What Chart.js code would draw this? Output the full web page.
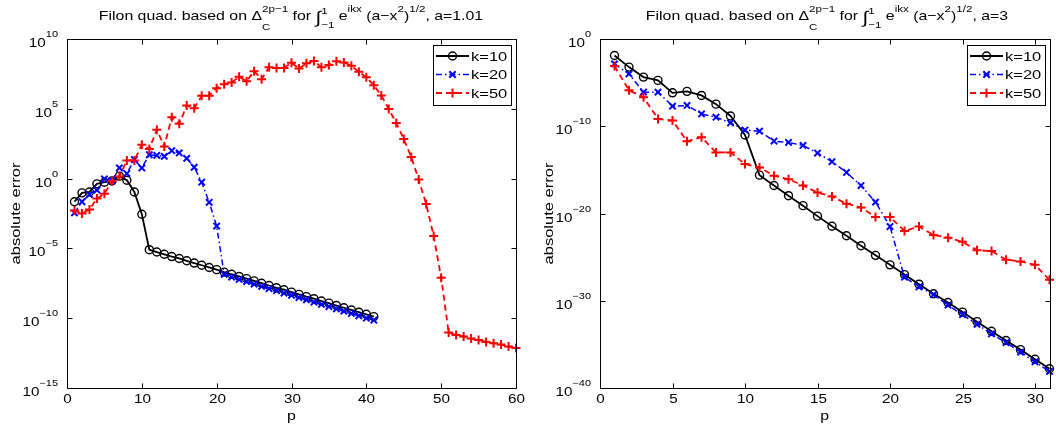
<!DOCTYPE html>
<html>
<head>
<meta charset="utf-8">
<script src="https://cdn.jsdelivr.net/npm/chart.js@4.4.0/dist/chart.umd.min.js"></script>
<style>
  html, body { margin: 0; padding: 0; background: #fff; }
  #wrap { position: relative; width: 1056px; height: 432px; overflow: hidden;
          font-family: "Liberation Sans", Arial, Helvetica, sans-serif; color: #000; }
  canvas { position: absolute; top: 0; }
  #cLeft { left: 0; }
  #cRight { left: 528px; }
  .ttl { position: absolute; top: 8px; font-size: 13px; line-height: 16px;
         white-space: nowrap; transform: translateX(-50%) scaleX(1.22); }
  .sp { font-size: 9.5px; position: relative; top: -8px; }
  .stk { display: inline-grid; font-size: 9.5px; line-height: 9px; }
  .stk > span { grid-area: 1 / 1; position: relative; }
  .delta .u { top: -8px; } .delta .d { top: 10px; }
  .intl .u { top: -6px; }  .intl .d { top: 7.5px; }
  .int { font-size: 17px; line-height: 10px; position: relative; top: 3px; }
</style>
</head>
<body>
<div id="wrap">
  <canvas id="cLeft" width="528" height="432"></canvas>
  <canvas id="cRight" width="528" height="432"></canvas>
  <div class="ttl" style="left:291px">Filon quad. based on &Delta;<span class="stk delta"><span class="u">2p&minus;1</span><span class="d">C</span></span> for <span class="int">&int;</span><span class="stk intl"><span class="u">1</span><span class="d">&minus;1</span></span> e<span class="sp">ikx</span> (a&minus;x<span class="sp">2</span>)<span class="sp">1/2</span>, a=1.01</div>
  <div class="ttl" style="left:827px">Filon quad. based on &Delta;<span class="stk delta"><span class="u">2p&minus;1</span><span class="d">C</span></span> for <span class="int">&int;</span><span class="stk intl"><span class="u">1</span><span class="d">&minus;1</span></span> e<span class="sp">ikx</span> (a&minus;x<span class="sp">2</span>)<span class="sp">1/2</span>, a=3</div>
</div>
<script>
// p values
const pLeft = [1, 2, 3, 4, 5, 6, 7, 8, 9, 10, 11, 12, 13, 14, 15, 16, 17, 18, 19, 20,
  21, 22, 23, 24, 25, 26, 27, 28, 29, 30, 31, 32, 33, 34, 35, 36, 37, 38, 39, 40,
  41, 42, 43, 44, 45, 46, 47, 48, 49, 50, 51, 52, 53, 54, 55, 56, 57, 58, 59, 60];
const pRight = [1, 2, 3, 4, 5, 6, 7, 8, 9, 10, 11, 12, 13, 14, 15, 16, 17, 18, 19, 20,
  21, 22, 23, 24, 25, 26, 27, 28, 29, 30, 31];

// a=1.01 (left)
const leftK10 = [2.2e-2, 9.5e-2, 1.1e-1, 4.2e-1, 5.5e-1, 6.8e-1, 1.5, 7.6e-1, 1.1e-1, 2.8e-3,
  8.1e-6, 5.5e-6, 3.8e-6, 2.6e-6, 1.9e-6, 1.3e-6, 8.9e-7, 6.2e-7, 4.3e-7, 3.0e-7,
  2.0e-7, 1.4e-7, 9.8e-8, 6.8e-8, 4.7e-8, 3.2e-8, 2.2e-8, 1.5e-8, 1.1e-8, 7.4e-9,
  5.1e-9, 3.5e-9, 2.5e-9, 1.7e-9, 1.2e-9, 8.1e-10, 5.6e-10, 3.9e-10, 2.7e-10, 1.9e-10, 1.3e-10];
const leftK20 = [3.5e-3, 2.2e-2, 7.2e-2, 1.5e-1, 9.5e-1, 7.1e-1, 5.8, 2.3, 23, 5.8,
  51, 46, 39, 100, 69, 28, 6.5, 5.5e-1, 2.0e-2, 4.0e-4,
  1.4e-7, 8.9e-8, 6.0e-8, 4.2e-8, 2.8e-8, 1.9e-8, 1.3e-8, 9.3e-9, 6.3e-9, 4.4e-9,
  3.0e-9, 2.1e-9, 1.4e-9, 9.8e-10, 6.8e-10, 4.7e-10, 3.2e-10, 2.2e-10, 1.5e-10, 1.0e-10, 7.2e-11];
const leftK50 = [5.1e-3, 3.2e-3, 6.2e-3, 3.7e-2, 8.1e-2, 6.5e-1, 1.4, 20, 20, 270,
  130, 3.2e3, 200, 2.5e4, 8.5e3, 1.7e5, 1.1e5, 8.5e5, 8.5e5, 3.0e6,
  5.8e6, 7.6e6, 2.0e7, 9.5e6, 4.9e7, 1.3e7, 9.5e7, 8.5e7, 8.5e7, 2.0e8,
  7.6e7, 1.8e8, 2.7e8, 9.5e7, 1.4e8, 2.5e8, 2.1e8, 1.2e8, 4.6e7, 1.8e7,
  4.8e6, 8.9e5, 9.5e4, 9.5e3, 680, 35, 8.5e-1, 1.5e-2, 7.6e-5, 7.9e-8,
  9.5e-12, 6.2e-12, 4.9e-12, 3.5e-12, 2.7e-12, 2.0e-12, 1.6e-12, 1.3e-12, 9.5e-13, 7.2e-13];

// a=3 (right)
const rightK10 = [1.3e-2, 6.0e-4, 4.3e-5, 1.8e-5, 6.8e-7, 1.0e-6, 3.4e-7, 3.4e-8, 1.5e-9, 1.0e-11,
  2.5e-16, 1.6e-17, 1.1e-18, 7.9e-20, 5.0e-21, 3.5e-22, 2.8e-23, 2.0e-24, 1.6e-25, 1.3e-26,
  1.0e-27, 7.9e-29, 6.3e-30, 6.3e-31, 5.0e-32, 4.0e-33, 3.2e-34, 2.8e-35, 2.5e-36, 2.0e-37, 1.6e-38];
const rightK20 = [1.4e-3, 1.0e-4, 8.1e-7, 8.1e-7, 2.0e-8, 2.4e-8, 2.6e-9, 1.1e-9, 2.4e-10, 3.7e-11,
  2.7e-11, 2.0e-12, 1.4e-12, 6.3e-13, 8.5e-14, 8.7e-15, 5.1e-16, 1.6e-17, 2.0e-19, 3.2e-22,
  5.0e-28, 4.0e-29, 5.0e-30, 3.2e-31, 2.5e-32, 2.0e-33, 1.6e-34, 1.6e-35, 1.3e-36, 1.0e-37, 7.9e-39];
const rightK50 = [7.9e-4, 1.3e-6, 2.1e-7, 6.9e-10, 4.5e-10, 1.9e-12, 5.5e-12, 1.0e-13, 1.0e-13, 4.7e-15,
  1.9e-15, 2.1e-16, 8.7e-17, 1.6e-17, 2.5e-18, 8.9e-19, 1.3e-19, 5.0e-20, 4.0e-21, 4.0e-21,
  1.0e-22, 3.2e-22, 3.5e-23, 1.7e-23, 5.6e-24, 6.3e-25, 5.0e-25, 5.0e-26, 3.2e-26, 1.3e-26, 2.5e-28];

const seriesLabels = ['k=10', 'k=20', 'k=50'];
const leftXTicks = [0, 10, 20, 30, 40, 50, 60];
const rightXTicks = [0, 5, 10, 15, 20, 25, 30];
const leftYTicks = [1e10, 1e5, 1e0, 1e-5, 1e-10, 1e-15];
const rightYTicks = [1e0, 1e-10, 1e-20, 1e-30, 1e-40];

const FONT = '"Liberation Sans", Arial, Helvetica, sans-serif';
const SX = 1.22; // the reference font is wider than Arial

// text squeezed/stretched along its own direction
function wideText(ctx, txt, x, y, align, sx) {
  ctx.save();
  ctx.translate(x, y);
  ctx.scale(sx, 1);
  ctx.textAlign = align;
  ctx.fillText(txt, 0, 0);
  ctx.restore();
}

// matlab style box, inward ticks, 10^n labels, axis titles
const matlabAxes = {
  id: 'matlabAxes',
  afterDraw(chart) {
    const { ctx, chartArea: a, scales: { x, y } } = chart;
    ctx.save();
    ctx.strokeStyle = '#000';
    ctx.fillStyle = '#000';
    ctx.lineWidth = 1;
    ctx.setLineDash([]);
    ctx.textBaseline = 'alphabetic';
    const L = Math.round(a.left) + 0.5, R = Math.round(a.right) + 0.5;
    const T = Math.round(a.top) + 0.5, B = Math.round(a.bottom) + 0.5;
    ctx.strokeRect(L, T, R - L, B - T);

    ctx.font = '12.5px ' + FONT;
    x.ticks.forEach(t => {
      const px = Math.round(x.getPixelForValue(t.value)) + 0.5;
      ctx.beginPath();
      ctx.moveTo(px, B); ctx.lineTo(px, B - 5);
      ctx.moveTo(px, T); ctx.lineTo(px, T + 5);
      ctx.stroke();
      wideText(ctx, String(t.value), px, B + 14, 'center', SX);
    });

    y.ticks.forEach(t => {
      const py = Math.round(y.getPixelForValue(t.value)) + 0.5;
      ctx.beginPath();
      ctx.moveTo(L, py); ctx.lineTo(L + 5, py);
      ctx.moveTo(R, py); ctx.lineTo(R - 5, py);
      ctx.stroke();
      const es = String(Math.round(Math.log10(t.value))).replace('-', '\u2212');
      ctx.font = '9px ' + FONT;
      const we = ctx.measureText(es).width * SX;
      ctx.font = '12.5px ' + FONT;
      const wb = ctx.measureText('10').width * SX;
      const rx = a.left - 9;
      wideText(ctx, '10', rx - we - wb, py + 7, 'left', SX);
      ctx.font = '9px ' + FONT;
      wideText(ctx, es, rx - we, py - 2.5, 'left', SX);
    });

    ctx.font = '13px ' + FONT;
    wideText(ctx, x.options.title.text, (a.left + a.right) / 2, B + 31, 'center', SX);
    ctx.save();
    ctx.translate(a.left - 47, (a.top + a.bottom) / 2);
    ctx.rotate(-Math.PI / 2);
    wideText(ctx, y.options.title.text, 0, 0, 'center', 1.27);
    ctx.restore();
    ctx.restore();
  }
};

// legend in a box, top right
const boxLegend = {
  id: 'boxLegend',
  afterDraw(chart) {
    const { ctx, chartArea: a } = chart;
    const w = 78, h = 60;
    const bx = Math.round(a.right) - 5 - w, by = Math.round(a.top) + 6;
    ctx.save();
    ctx.fillStyle = '#fff';
    ctx.fillRect(bx, by, w, h);
    ctx.strokeStyle = '#000';
    ctx.lineWidth = 1;
    ctx.strokeRect(bx + 0.5, by + 0.5, w, h);
    chart.data.datasets.forEach((ds, i) => {
      const yy = by + 11 + i * 18.5;
      ctx.strokeStyle = ds.borderColor;
      ctx.lineWidth = ds.borderWidth;
      ctx.setLineDash(ds.borderDash || []);
      ctx.beginPath();
      ctx.moveTo(bx + 3, yy); ctx.lineTo(bx + 36, yy);
      ctx.stroke();
      ctx.setLineDash([]);
      ctx.lineWidth = ds.pointBorderWidth;
      ctx.fillStyle = 'rgba(0,0,0,0)';
      Chart.helpers.drawPoint(ctx, {
        pointStyle: ds.pointStyle, radius: ds.pointRadius, borderWidth: ds.pointBorderWidth, rotation: 0
      }, bx + 19.5, yy);
      ctx.fillStyle = '#000';
      ctx.font = '13px ' + FONT;
      ctx.textBaseline = 'alphabetic';
      wideText(ctx, ds.label, bx + 38, yy + 4.5, 'left', 1.27);
    });
    ctx.restore();
  }
};

function makeSeries(label, p, vals, color, dash, style, radius, lw, order) {
  return {
    label: label,
    data: vals.map((v, i) => ({ x: p[i], y: v })),
    borderColor: color,
    borderWidth: lw,
    borderDash: dash,
    pointStyle: style,
    pointRadius: radius,
    pointBorderColor: color,
    pointBackgroundColor: 'rgba(0,0,0,0)',
    pointBorderWidth: style === 'circle' ? 1.4 : 2,
    tension: 0,
    clip: false,
    order: order
  };
}

function makeChart(id, xs, k10, k20, k50, xMax, yMin, yMax, xTicks, yTicks, left, right) {
  return new Chart(document.getElementById(id), {
    type: 'line',
    data: {
      datasets: [
        makeSeries(seriesLabels[0], xs, k10, '#000000', [], 'circle', 4, 1.8, 3),
        makeSeries(seriesLabels[1], xs, k20, '#0000ff', [6, 3, 1.5, 3], 'crossRot', 4.5, 1.5, 2),
        makeSeries(seriesLabels[2], xs, k50, '#ff0000', [6, 4], 'cross', 4.5, 1.8, 1)
      ]
    },
    options: {
      responsive: false,
      animation: false,
      devicePixelRatio: 1,
      layout: { padding: { left: 0, right: right, top: 39, bottom: 0 } },
      plugins: { legend: { display: false }, tooltip: { enabled: false }, title: { display: false } },
      scales: {
        x: {
          type: 'linear', min: 0, max: xMax,
          grid: { display: false }, border: { display: false },
          ticks: { display: false },
          title: { display: false, text: 'p' },
          afterBuildTicks: s => { s.ticks = xTicks.map(v => ({ value: v })); },
          afterFit: s => { s.height = 44; }
        },
        y: {
          type: 'logarithmic', min: yMin, max: yMax,
          grid: { display: false }, border: { display: false },
          ticks: { display: false },
          title: { display: false, text: 'absolute error' },
          afterBuildTicks: s => { s.ticks = yTicks.map(v => ({ value: v })); },
          afterFit: s => { s.width = left; }
        }
      }
    },
    plugins: [matlabAxes, boxLegend]
  });
}

makeChart('cLeft', pLeft, leftK10, leftK20, leftK50, 60, 1e-15, 1e10, leftXTicks, leftYTicks, 67, 12);
makeChart('cRight', pRight, rightK10, rightK20, rightK50, 31, 1e-40, 1e0, rightXTicks, rightYTicks, 72, 2);
</script>
</body>
</html>
